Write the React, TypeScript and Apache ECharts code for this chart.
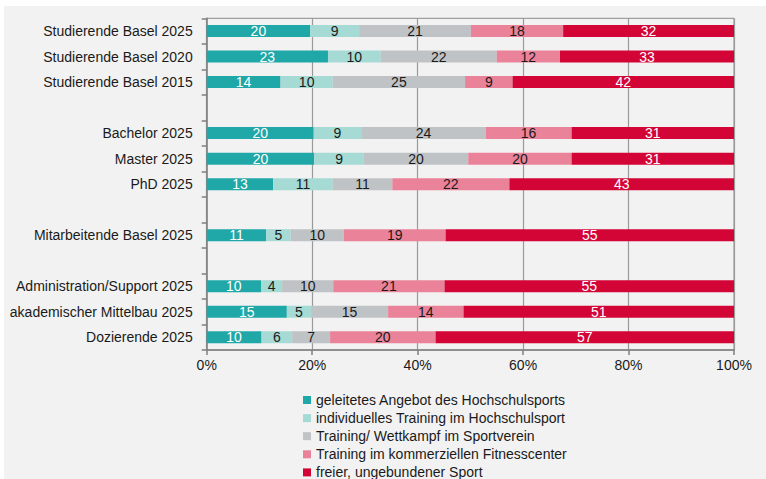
import React, { useEffect, useRef } from "react";
import * as echarts from "echarts";

const categories = [
  "Studierende Basel 2025",
  "Studierende Basel 2020",
  "Studierende Basel 2015",
  "Bachelor 2025",
  "Master 2025",
  "PhD 2025",
  "Mitarbeitende Basel 2025",
  "Administration/Support 2025",
  "akademischer Mittelbau 2025",
  "Dozierende 2025",
];

// row layout: index into categories, or null for an empty spacer row
const rowOrder: (number | null)[] = [0, 1, 2, null, 3, 4, 5, null, 6, null, 7, 8, 9];

const seriesNames = [
  "geleitetes Angebot des Hochschulsports",
  "individuelles Training im Hochschulsport",
  "Training/ Wettkampf im Sportverein",
  "Training im kommerziellen Fitnesscenter",
  "freier, ungebundener Sport",
];

const geleitet = [19.6, 23.0, 14.0, 20.3, 20.4, 12.6, 11.3, 10.3, 15.2, 10.4];
const individuell = [9.3, 10.0, 9.9, 9.0, 9.4, 11.3, 4.6, 4.0, 4.6, 5.8];
const verein = [21.2, 22.0, 25.1, 23.6, 19.8, 11.3, 10.1, 9.7, 14.6, 7.2];
const fitness = [17.5, 12.0, 9.0, 16.3, 19.6, 22.2, 19.3, 21.1, 14.3, 20.0];
const frei = [32.4, 33.0, 42.0, 30.8, 30.8, 42.6, 54.7, 54.9, 51.3, 56.6];

const xTicks = [0, 20, 40, 60, 80, 100];

const colors = ["#1fa8a7", "#a6dad4", "#bfc3c6", "#ea8399", "#d30537"];
const labelColors = ["#ffffff", "#1a1a1a", "#1a1a1a", "#1a1a1a", "#ffffff"];

const FONT = "'Liberation Sans', Arial, sans-serif";
const FS = 14;

export default function App() {
  const ref = useRef<HTMLDivElement>(null);

  useEffect(() => {
    if (!ref.current) return;
    const chart = echarts.init(ref.current, undefined, { renderer: "svg" });

    let spacer = 0;
    const axisCats = rowOrder.map((i) => {
      if (i === null) {
        spacer += 1;
        return " ".repeat(spacer);
      }
      return categories[i];
    });

    const allValues = [geleitet, individuell, verein, fitness, frei];

    const series = allValues.map((vals, s) => ({
      name: seriesNames[s],
      type: "bar",
      stack: "total",
      barWidth: 12,
      itemStyle: { color: colors[s] },
      label: {
        show: true,
        position: "inside",
        color: labelColors[s],
        fontSize: FS,
        fontFamily: FONT,
        formatter: (p: any) => String(Math.round(p.value)),
      },
      data: rowOrder.map((i) => (i === null ? null : vals[i])),
    }));

    chart.setOption({
      animation: false,
      backgroundColor: "#f2f2f2",
      textStyle: { fontFamily: FONT },
      grid: {
        left: 202.7,
        top: 12.3,
        right: 32,
        bottom: 156,
        show: true,
        borderColor: "#8a8a8a",
        borderWidth: 1,
        backgroundColor: "transparent",
      },
      legend: {
        orient: "vertical",
        left: 294,
        top: 382,
        icon: "rect",
        itemWidth: 8,
        itemHeight: 8,
        itemGap: 4.1,
        textStyle: { fontSize: FS, color: "#1a1a1a", fontFamily: FONT, lineHeight: 14 },
        data: seriesNames,
      },
      xAxis: {
        type: "value",
        min: xTicks[0],
        max: xTicks[xTicks.length - 1],
        interval: 20,
        axisLine: { show: true, lineStyle: { color: "#7f7f7f", width: 1.5 } },
        axisTick: { show: true, length: 5, lineStyle: { color: "#7f7f7f", width: 1.5 } },
        splitLine: { show: true, lineStyle: { color: "#9a9a9a", width: 1.2 } },
        axisLabel: {
          fontSize: FS,
          color: "#1a1a1a",
          fontFamily: FONT,
          margin: 8,
          formatter: (v: number) => `${v}%`,
        },
      },
      yAxis: {
        type: "category",
        inverse: true,
        data: axisCats,
        axisLine: { show: true, lineStyle: { color: "#7f7f7f", width: 1.5 } },
        axisTick: { show: true, length: 5, lineStyle: { color: "#7f7f7f", width: 1.5 } },
        axisLabel: { fontSize: FS, color: "#1a1a1a", fontFamily: FONT, margin: 14 },
      },
      series,
    });

    return () => chart.dispose();
  }, []);

  return (
    <div
      style={{
        position: "fixed",
        left: 0,
        top: 0,
        width: 766,
        height: 479,
        background: "#ffffff",
        overflow: "hidden",
      }}
    >
      <div ref={ref} style={{ position: "absolute", left: 4, top: 6, width: 762, height: 500 }} />
    </div>
  );
}
